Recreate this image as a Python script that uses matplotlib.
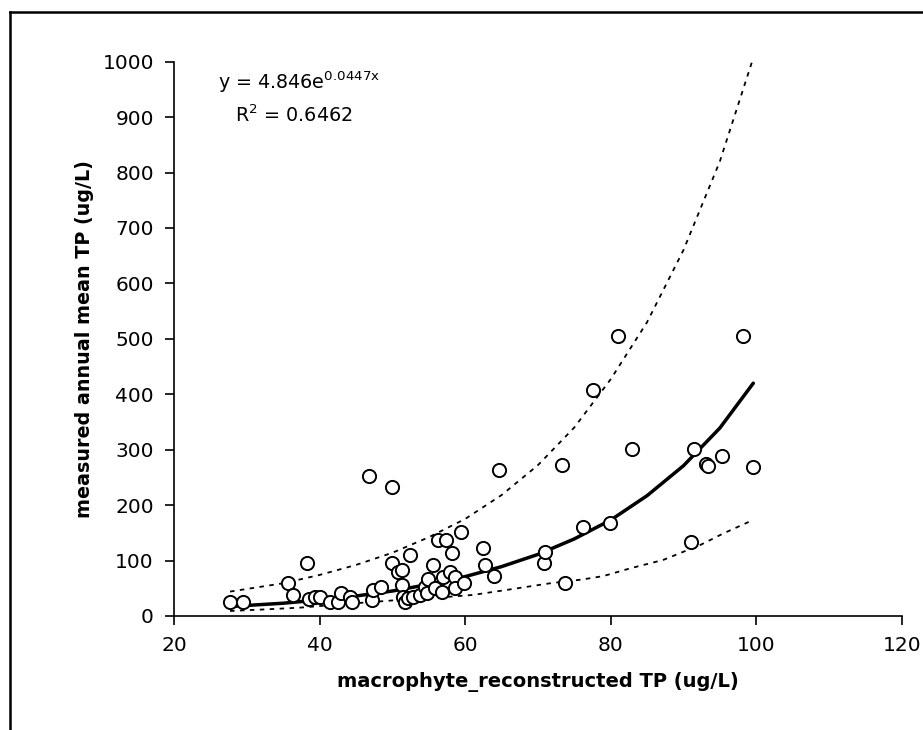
import matplotlib
matplotlib.use("Agg")
import matplotlib.pyplot as plt
from matplotlib.lines import Line2D

plt.rcParams['font.family'] = ['DejaVu Sans']
plt.rcParams['mathtext.fontset'] = 'dejavusans'

# observed points (macrophyte reconstructed TP vs measured TP)
obs_x = [27.7, 29.5, 35.7, 36.4, 38.3, 38.6, 39.4, 40.1, 41.4, 42.6, 43.0, 44.2, 44.4,
         47.2, 47.4, 48.5, 46.8, 49.9, 49.9, 50.8, 51.3, 51.3, 51.5, 51.7, 52.2, 52.4,
         52.9, 53.8, 54.5, 54.7, 54.9, 55.6, 55.9, 56.3, 57.4, 56.8, 57.0, 57.9, 58.2,
         58.6, 58.6, 59.5, 59.8, 62.5, 62.8, 64.0, 64.7, 70.8, 71.0, 73.3, 73.7, 76.2,
         77.6, 79.9, 81.0, 82.9, 91.1, 91.4, 93.1, 93.4, 95.3, 98.2, 99.6]
obs_y = [26, 26, 59, 38, 95, 31, 34, 35, 26, 26, 41, 35, 26,
         29, 47, 53, 253, 232, 95, 80, 83, 56, 35, 26, 32, 110,
         35, 38, 52, 41, 67, 92, 50, 137, 137, 44, 71, 80, 113,
         71, 50, 152, 59, 122, 92, 72, 264, 95, 116, 273, 59, 160,
         408, 167, 506, 301, 134, 301, 274, 271, 289, 506, 268]

# fitted exponential trend
fit_x = [27.7, 30, 35, 40, 45, 50, 55, 60, 65, 70, 75, 80, 85, 90, 95, 99.6]
fit_y = [17, 19, 23, 29, 36, 45, 57, 71, 89, 111, 139, 173, 217, 271, 339, 420]

# upper / lower bounds
up_x = [27.7, 35, 40, 45, 50, 55, 60, 65, 70, 75, 80, 85, 90, 95, 99.6]
up_y = [44, 59, 74, 92, 114, 142, 175, 218, 272, 340, 427, 530, 660, 820, 1007]
lo_x = [27.7, 32.7, 37.3, 42, 47, 52, 55.2, 61.1, 65.7, 71.7, 76.2, 79, 82.7, 87.2, 92.3, 95.5, 99.2]
lo_y = [9, 12, 15, 20, 25, 30, 32, 38, 47, 59, 66, 72, 86, 101, 128, 149, 171]

x_ticks = [20, 40, 60, 80, 100, 120]
y_ticks = [0, 100, 200, 300, 400, 500, 600, 700, 800, 900, 1000]

fig = plt.figure(figsize=(9.23, 7.30), dpi=100)
ax = fig.add_axes([0.1885, 0.1562, 0.7885, 0.7593])

ax.plot(up_x, up_y, color='black', lw=1.3, linestyle=(0, (2.5, 3)))
ax.plot(lo_x, lo_y, color='black', lw=1.3, linestyle=(0, (2.5, 3)))
ax.plot(fit_x, fit_y, color='black', lw=2.5, solid_capstyle='round')
ax.plot(obs_x, obs_y, linestyle='none', marker='o', markersize=9.5,
        markerfacecolor='white', markeredgecolor='black', markeredgewidth=1.4)

ax.set_xlim(20, 120)
ax.set_ylim(0, 1000)
ax.set_xticks(x_ticks)
ax.set_yticks(y_ticks)
ax.tick_params(direction='out', length=6.5, width=1.2, labelsize=14.5, pad=8, colors='black')
for s in ['top', 'right']:
    ax.spines[s].set_visible(False)
for s in ['left', 'bottom']:
    ax.spines[s].set_linewidth(1.2)

ax.set_xlabel('macrophyte_reconstructed TP (ug/L)', fontsize=14, fontweight='bold', labelpad=12)
ax.set_ylabel('measured annual mean TP (ug/L)', fontsize=13.8, fontweight='bold', labelpad=6)

fig.text(218 / 923, 1 - 82 / 730, r'y = 4.846e$^{\mathrm{0.0447x}}$', ha='left', va='center', fontsize=13.8)
fig.text(235 / 923, 1 - 115 / 730, r'R$^{2}$ = 0.6462', ha='left', va='center', fontsize=13.8)

# outer frame (left and top edges)
fig.add_artist(Line2D([10 / 923, 10 / 923], [0, 1 - 12 / 730], transform=fig.transFigure, color='black', lw=1.8))
fig.add_artist(Line2D([10 / 923, 1], [1 - 12 / 730, 1 - 12 / 730], transform=fig.transFigure, color='black', lw=1.8))

fig.savefig('out.png', dpi=100)
